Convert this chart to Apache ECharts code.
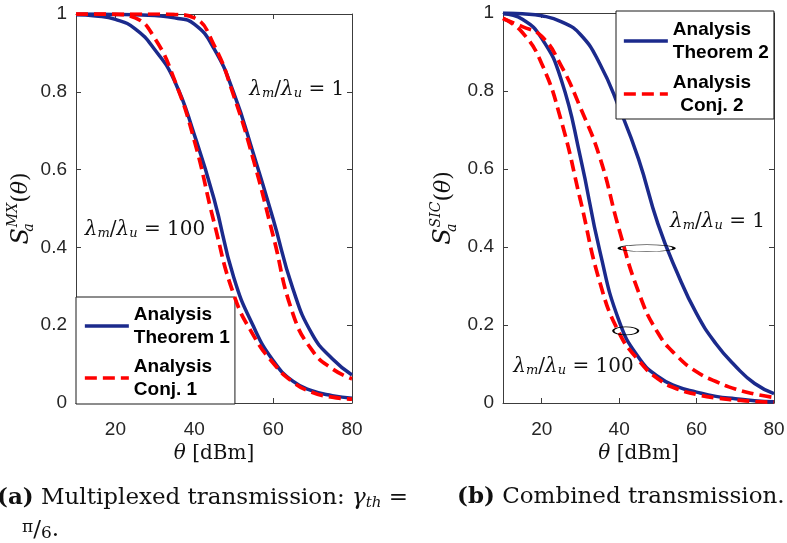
<!DOCTYPE html>
<html>
<head>
<meta charset="utf-8">
<script src="https://cdn.jsdelivr.net/npm/echarts@6/dist/echarts.min.js"></script>
<style>
  html, body { margin: 0; padding: 0; background: #fff; }
  #chart { width: 787px; height: 543px; }
</style>
</head>
<body>
<div id="chart"></div>
<script>
// Received power threshold theta [dBm]
const thetaDbm = [10, 15, 20, 25, 30, 35, 40, 45, 50, 55, 60, 65, 70, 75, 80];
const xTicks = [20, 40, 60, 80];

// (a) Multiplexed transmission, S_a^MX(theta)
const mxThm1Ratio100 = [0.998, 0.995, 0.986, 0.962, 0.908, 0.828, 0.69, 0.525, 0.323, 0.197, 0.109, 0.056, 0.031, 0.019, 0.012];
const mxConj1Ratio100 = [1.0, 1.0, 0.999, 0.99, 0.937, 0.83, 0.675, 0.465, 0.279, 0.174, 0.103, 0.054, 0.027, 0.015, 0.010];
const mxThm1Ratio1 = [1.0, 1.0, 0.999, 0.998, 0.996, 0.99, 0.974, 0.911, 0.797, 0.641, 0.473, 0.294, 0.175, 0.114, 0.072];
const mxConj1Ratio1 = [1.0, 1.0, 1.0, 1.0, 1.0, 0.999, 0.99, 0.92, 0.79, 0.625, 0.43, 0.23, 0.134, 0.088, 0.062];

// (b) Combined transmission, S_a^SIC(theta)
const sicThm2Ratio1 = [1.0, 0.998, 0.993, 0.978, 0.945, 0.87, 0.757, 0.626, 0.46, 0.334, 0.229, 0.152, 0.095, 0.05, 0.024];
const sicThm2Ratio100 = [0.998, 0.984, 0.935, 0.83, 0.63, 0.39, 0.21, 0.117, 0.068, 0.042, 0.028, 0.017, 0.011, 0.006, 0.003];
const sicConj2Ratio100 = [0.987, 0.95, 0.87, 0.725, 0.52, 0.31, 0.18, 0.11, 0.062, 0.036, 0.022, 0.013, 0.008, 0.004, 0.002];
const sicConj2Ratio1 = [0.985, 0.965, 0.94, 0.865, 0.757, 0.63, 0.445, 0.285, 0.18, 0.12, 0.08, 0.055, 0.036, 0.023, 0.014];

const BLUE = '#1b2a8c';
const RED = '#ff0000';
const AXIS = '#3c3c3c';
const TICK_TXT = '#262626';
const SERIF = 'DejaVu Serif';
const SANS = 'Liberation Sans';

function curve(name, values, dashed, gridIdx, extra) {
  const s = {
    type: 'line',
    name: name,
    xAxisIndex: gridIdx * 2,
    yAxisIndex: gridIdx * 2,
    data: thetaDbm.map((t, i) => [t, values[i]]),
    symbol: 'none',
    showSymbol: false,
    smooth: 0.5,
    silent: true,
    z: dashed ? 4 : 3,
    itemStyle: { color: dashed ? RED : BLUE },
    lineStyle: {
      color: dashed ? RED : BLUE,
      width: dashed ? 3.7 : 3.5,
      type: dashed ? [12, 6] : 'solid',
      cap: 'butt'
    }
  };
  return Object.assign(s, extra || {});
}

const lambdaRich = {
  l: { fontFamily: SERIF, fontStyle: 'italic', fontSize: 20, color: '#111' },
  s: { fontFamily: SERIF, fontStyle: 'italic', fontSize: 13, color: '#111', verticalAlign: 'bottom', padding: [8, 0, 0, 0] },
  n: { fontFamily: SERIF, fontSize: 20, color: '#111' }
};
function lambdaText(v) {
  return '{l|λ}{s|m}{n|/}{l|λ}{s|u}{n| = ' + v + '}';
}
function textMark(coord, v) {
  return {
    coord: coord,
    symbol: 'circle',
    symbolSize: 1,
    itemStyle: { color: 'rgba(0,0,0,0)' },
    label: { show: true, position: 'inside', formatter: lambdaText(v), rich: lambdaRich }
  };
}
function ellipseMark(coord, size) {
  return {
    coord: coord,
    symbol: 'circle',
    symbolSize: size,
    itemStyle: { color: 'rgba(0,0,0,0)', borderColor: '#000', borderWidth: 1.2 },
    label: { show: false }
  };
}

function xAxes(gridIdx) {
  const base = {
    type: 'value', gridIndex: gridIdx, min: 10, max: 80,
    axisLine: { show: true, onZero: false, lineStyle: { color: AXIS, width: 1 } },
    axisTick: { show: true, inside: true, length: 5, customValues: xTicks, lineStyle: { color: AXIS } },
    splitLine: { show: false }
  };
  return [
    Object.assign({}, base, {
      position: 'bottom',
      axisLabel: { show: true, customValues: xTicks, margin: 17, color: TICK_TXT, fontFamily: SANS, fontSize: 19 },
      name: '{t|θ} [dBm]',
      nameLocation: 'middle',
      nameGap: 41,
      nameTextStyle: {
        fontFamily: SERIF, fontSize: 20, color: '#111',
        rich: { t: { fontFamily: SERIF, fontStyle: 'italic', fontSize: 20, color: '#111' } }
      }
    }),
    Object.assign({}, base, { position: 'top', axisLabel: { show: false } })
  ];
}

function yAxes(gridIdx, sup, gap) {
  const base = {
    type: 'value', gridIndex: gridIdx, min: 0, max: 1, interval: 0.2,
    axisLine: { show: true, lineStyle: { color: AXIS, width: 1 } },
    axisTick: { show: true, inside: true, length: 5, lineStyle: { color: AXIS } },
    splitLine: { show: false }
  };
  return [
    Object.assign({}, base, {
      position: 'left',
      axisLabel: { show: true, margin: 9, color: TICK_TXT, fontFamily: SANS, fontSize: 19 },
      name: '{S|S}{b|a}{p|' + sup + '}{t|(}{i|θ}{t|)}',
      nameLocation: 'middle',
      nameRotate: 90,
      nameGap: gap,
      nameTextStyle: {
        fontFamily: SERIF, fontSize: 22, color: '#111', lineHeight: 30,
        rich: {
          S: { fontFamily: SERIF, fontStyle: 'italic', fontSize: 24, color: '#111' },
          b: { fontFamily: SERIF, fontStyle: 'italic', fontSize: 14, color: '#111', verticalAlign: 'bottom', width: 1 },
          p: { fontFamily: SERIF, fontStyle: 'italic', fontSize: 14, color: '#111', verticalAlign: 'top' },
          t: { fontFamily: SERIF, fontSize: 22, color: '#111' },
          i: { fontFamily: SERIF, fontStyle: 'italic', fontSize: 22, color: '#111' }
        }
      }
    }),
    Object.assign({}, base, { position: 'right', axisLabel: { show: false } })
  ];
}

const legendText = { fontFamily: SANS, fontWeight: 'bold', fontSize: 19, lineHeight: 23, color: '#000' };
function legendBox(names, left, top, pad, gap, centred) {
  return {
    data: names,
    orient: 'vertical',
    left: left,
    top: top,
    padding: pad,
    itemGap: gap,
    itemWidth: 44,
    itemHeight: 14,
    selectedMode: false,
    backgroundColor: '#fff',
    borderColor: '#1a1a1a',
    borderWidth: 1,
    borderRadius: 0,
    itemStyle: { opacity: 0, borderWidth: 0 },
    lineStyle: { width: 3.7 },
    textStyle: Object.assign({}, legendText, {
      rich: { c: Object.assign({ align: 'center' }, legendText) }
    }),
    formatter: function (n) {
      if (centred && n.indexOf('Conj') === 0) return 'Analysis\n{c|' + n + '}';
      return 'Analysis\n' + n;
    }
  };
}

const capRich = {
  b: { fontFamily: SERIF, fontSize: 23, fontWeight: 'bold', color: '#111' },
  i: { fontFamily: SERIF, fontSize: 23, fontStyle: 'italic', color: '#111' },
  s: { fontFamily: SERIF, fontSize: 15, fontStyle: 'italic', color: '#111', verticalAlign: 'bottom', padding: [10, 0, 0, 0] },
  p: { fontFamily: SERIF, fontSize: 17, color: '#111', verticalAlign: 'top' },
  n: { fontFamily: SERIF, fontSize: 23, fontWeight: 'normal', color: '#111' },
  q: { fontFamily: SERIF, fontSize: 17, color: '#111', verticalAlign: 'bottom' }
};

const chart = echarts.init(document.getElementById('chart'), null, { renderer: 'canvas' });
chart.setOption({
  animation: false,
  backgroundColor: '#fff',
  grid: [
    { left: 76, top: 14, width: 276, height: 389, outerBoundsMode: 'none' },
    { left: 503, top: 13, width: 271, height: 390, outerBoundsMode: 'none' }
  ],
  xAxis: xAxes(0).concat(xAxes(1)),
  yAxis: yAxes(0, 'MX', 36).concat(yAxes(1, 'SIC', 44)),
  legend: [
    legendBox(['Theorem 1', 'Conj. 1'], 76, 297, [6, 5, 3, 7], 6, false),
    legendBox(['Theorem 2', 'Conj. 2'], 616, 11, [7, 5, 2, 6], 7, true)
  ],
  title: [
    {
      left: -3, top: 486, padding: 0,
      text: '{b|(a)}{n| Multiplexed transmission: }{i|γ}{s|th}{n| =}',
      textStyle: { fontFamily: SERIF, fontSize: 23, fontWeight: 'normal', color: '#111', rich: capRich }
    },
    {
      left: 22, top: 519, padding: 0,
      text: '{p|π}{n|/}{q|6}{n|.}',
      textStyle: { fontFamily: SERIF, fontSize: 23, fontWeight: 'normal', color: '#111', rich: capRich }
    },
    {
      left: 457, top: 486, padding: 0,
      text: '{b|(b)}{n| Combined transmission.}',
      textStyle: { fontFamily: SERIF, fontSize: 23, fontWeight: 'normal', color: '#111', rich: capRich }
    }
  ],
  series: [
    curve('Theorem 1', mxThm1Ratio100, false, 0, {
      markPoint: { silent: true, data: [textMark([27.5, 0.445], '100'), textMark([66.0, 0.805], '1')] }
    }),
    curve('Theorem 1', mxThm1Ratio1, false, 0),
    curve('Conj. 1', mxConj1Ratio100, true, 0),
    curve('Conj. 1', mxConj1Ratio1, true, 0),
    curve('Theorem 2', sicThm2Ratio1, false, 1, {
      markPoint: {
        silent: true,
        data: [
          textMark([65.4, 0.464], '1'),
          textMark([28.2, 0.092], '100'),
          ellipseMark([47.1, 0.397], [55, 7]),
          ellipseMark([41.7, 0.185], [25, 8])
        ]
      }
    }),
    curve('Theorem 2', sicThm2Ratio100, false, 1),
    curve('Conj. 2', sicConj2Ratio100, true, 1),
    curve('Conj. 2', sicConj2Ratio1, true, 1)
  ]
});
</script>
</body>
</html>
